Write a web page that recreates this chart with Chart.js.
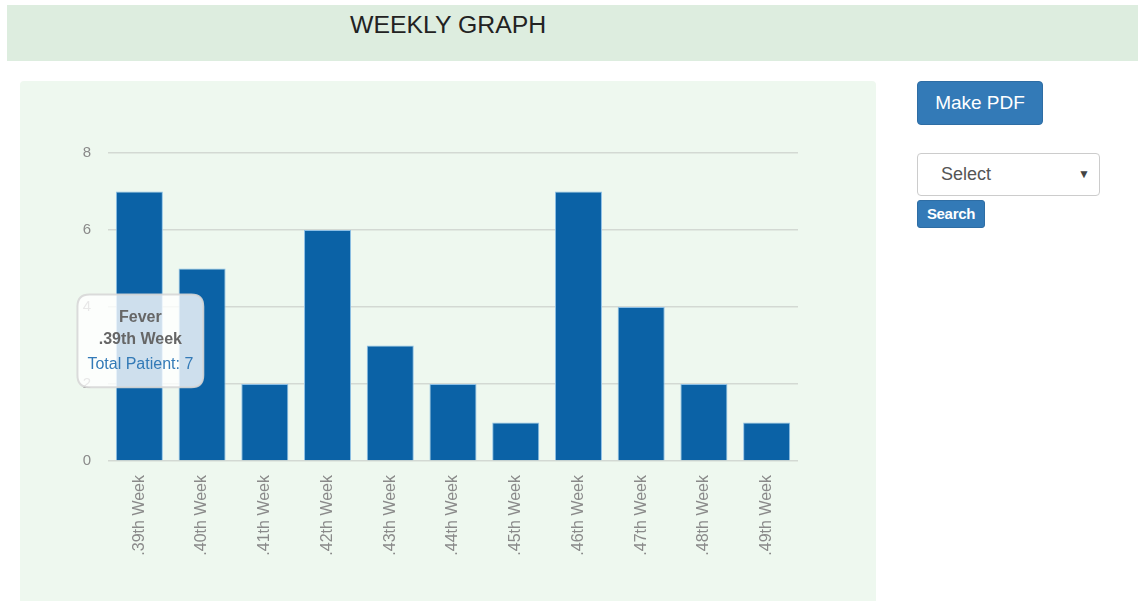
<!DOCTYPE html>
<html>
<head>
<meta charset="utf-8">
<title>Weekly Graph</title>
<script src="https://cdn.jsdelivr.net/npm/chart.js@4.4.1/dist/chart.umd.min.js"></script>
<style>
  html, body { margin: 0; padding: 0; background: #ffffff; width: 1138px; height: 601px; overflow: hidden;
    font-family: "Liberation Sans", Arial, Helvetica, sans-serif; }
  .header { position: absolute; left: 7px; top: 5px; width: 1131px; height: 56px; background: #ddeddf; }
  .header h3 { position: absolute; left: 343px; top: 6px; margin: 0; font-size: 24.8px; font-weight: normal;
    color: #222; line-height: 28px; }
  .panel { position: absolute; left: 20px; top: 81px; width: 856px; height: 530px; background: #eef8ef;
    border-radius: 4px; }
  .panel canvas { position: absolute; left: 0; top: 0; }
  .btn { position: absolute; background: #337ab7; color: #fff; border-radius: 4px; border: 1px solid #2e6da4;
    box-sizing: border-box; text-align: center; }
  .pdf { left: 917px; top: 81px; width: 126px; height: 44px; font-size: 19px; line-height: 42px; }
  .search { left: 917px; top: 200px; width: 68px; height: 28px; font-size: 15px; line-height: 26px; border-radius: 3px;
    font-weight: bold; letter-spacing: -0.3px; }
  .select { position: absolute; left: 917px; top: 153px; width: 183px; height: 43px; box-sizing: border-box;
    border: 1px solid #cccccc; border-radius: 4px; background: #fff; color: #555; font-size: 18px; line-height: 41px; }
  .select span.t { position: absolute; left: 23px; }
  .select span.a { position: absolute; right: 9px; font-size: 12px; color: #444; }
</style>
</head>
<body>
<div class="header"><h3>WEEKLY GRAPH</h3></div>
<div class="panel"><canvas id="weekly" width="856" height="520"></canvas></div>
<div class="btn pdf">Make PDF</div>
<div class="select"><span class="t">Select</span><span class="a">&#9660;</span></div>
<div class="btn search">Search</div>

<script>
// Weekly patient counts for the selected disease
const diseaseName = 'Fever';
const weekLabels = ['.39th Week', '.40th Week', '.41th Week', '.42th Week', '.43th Week', '.44th Week',
                    '.45th Week', '.46th Week', '.47th Week', '.48th Week', '.49th Week'];
const patientCounts = [7, 5, 2, 6, 3, 2, 1, 7, 4, 2, 1];
const yTickMax = 8;
const yTickStep = 2;

// Tooltip anchored over the bar, lower part of the plot
Chart.Tooltip.positioners.barAnchor = function (items) {
  if (!items.length) return false;
  const area = this.chart.chartArea;
  return { x: items[0].element.x + 1, y: area.top + (area.bottom - area.top) * 0.61 };
};

const chart = new Chart(document.getElementById('weekly'), {
  type: 'bar',
  data: {
    labels: weekLabels,
    datasets: [{
      label: diseaseName,
      data: patientCounts,
      backgroundColor: '#0b62a6',
      borderColor: '#8ec0e6',
      borderWidth: 1,
      categoryPercentage: 1.0,
      barPercentage: 0.75
    }]
  },
  options: {
    responsive: false,
    animation: false,
    devicePixelRatio: 1,
    layout: { padding: { left: 0, top: 72, right: 78, bottom: 0 } },
    plugins: {
      legend: { display: false },
      tooltip: {
        enabled: true,
        position: 'barAnchor',
        xAlign: 'center',
        yAlign: 'center',
        caretSize: 0,
        displayColors: false,
        backgroundColor: 'rgba(255,255,255,0.8)',
        borderColor: 'rgba(215,215,215,0.9)',
        borderWidth: 2,
        cornerRadius: 12,
        padding: { top: 13, bottom: 13, left: 10, right: 10 },
        titleColor: '#666666',
        titleFont: { family: 'Liberation Sans', size: 16, weight: 'bold' },
        titleAlign: 'center',
        titleSpacing: 3,
        titleMarginBottom: 6,
        bodyColor: '#337ab7',
        bodyFont: { family: 'Liberation Sans', size: 16 },
        bodyAlign: 'center',
        callbacks: {
          title: (items) => [diseaseName, items[0].label],
          label: (item) => 'Total Patient: ' + item.raw
        }
      }
    },
    scales: {
      x: {
        grid: { display: false },
        border: { display: false },
        ticks: {
          color: '#8a8a8a',
          font: { family: 'Liberation Sans', size: 16 },
          maxRotation: 90,
          minRotation: 90,
          padding: 6
        },
        afterFit: (scale) => { scale.height = 140; }
      },
      y: {
        min: 0,
        max: yTickMax,
        border: { display: false },
        grid: { color: '#d3d9d3', lineWidth: 1.5, drawTicks: false },
        ticks: {
          stepSize: yTickStep,
          color: '#8a8a8a',
          font: { family: 'Liberation Sans', size: 15 },
          padding: 17
        },
        afterFit: (scale) => { scale.width = 88; }
      }
    }
  }
});

chart.tooltip.setActiveElements([{ datasetIndex: 0, index: 0 }], { x: 0, y: 0 });
chart.update('none');
</script>
</body>
</html>
